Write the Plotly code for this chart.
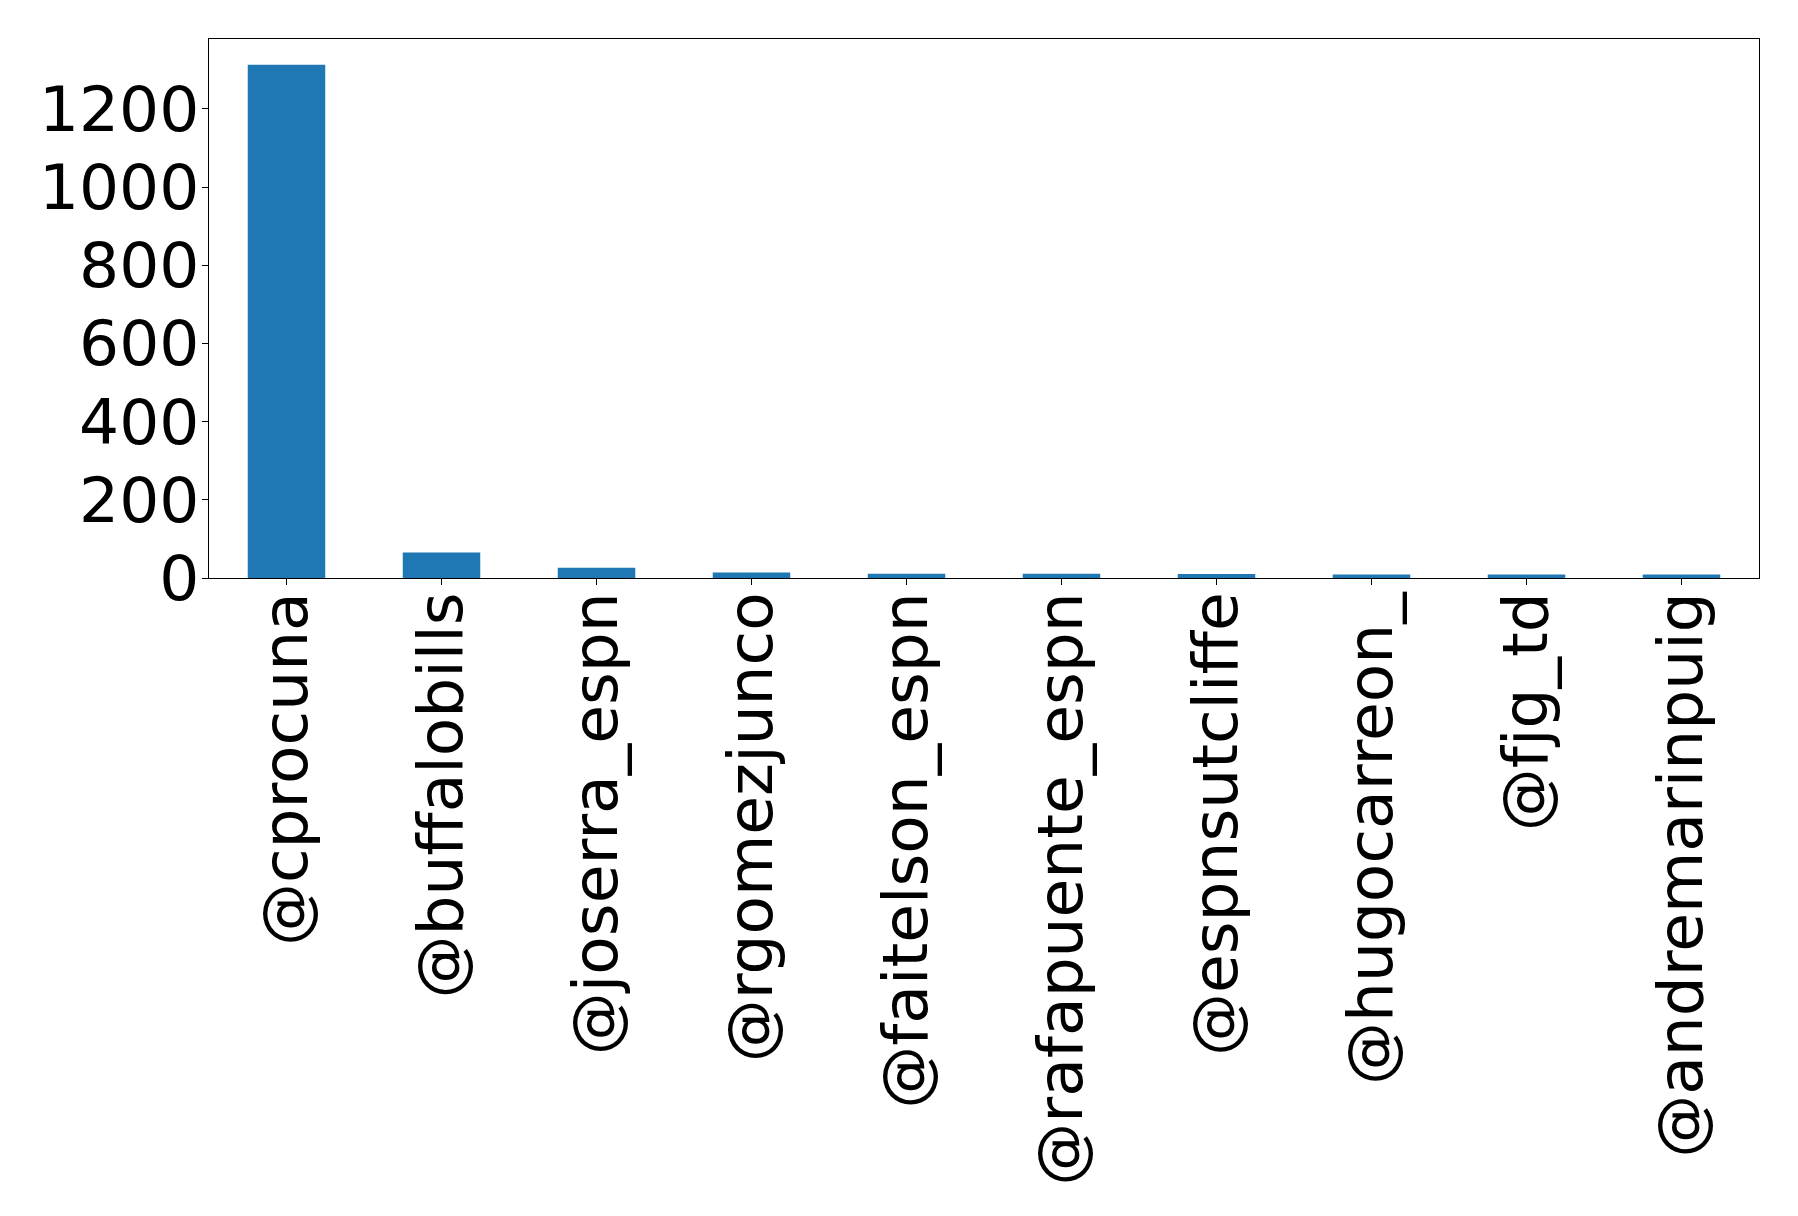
import plotly.graph_objects as go

accounts = ["@cprocuna", "@buffalobills", "@joserra_espn", "@rgomezjunco",
            "@faitelson_espn", "@rafapuente_espn", "@espnsutcliffe",
            "@hugocarreon_", "@fjg_td", "@andremarinpuig"]
counts = [1313, 65, 26, 14, 11, 11, 10, 9, 9, 9]

fig = go.Figure(go.Bar(
    x=list(range(len(accounts))), y=counts, width=0.5,
    marker=dict(color="#1f77b4", line=dict(width=0)),
))

font = dict(family="DejaVu Sans", size=63, color="black")
fig.update_layout(
    width=1790, height=1208,
    margin=dict(l=201, r=39, t=31, b=638),
    paper_bgcolor="white", plot_bgcolor="white",
    showlegend=False,
    font=font,
)
fig.update_xaxes(
    range=[-0.5, 9.5], tickmode="array",
    tickvals=list(range(len(accounts))), ticktext=accounts,
    tickangle=-90, ticks="outside", ticklen=6, tickwidth=1.2, tickcolor="black",
    ticklabelstandoff=-18,
    showline=True, linecolor="black", linewidth=1.2, mirror=True,
    showgrid=False, zeroline=False, tickfont=font,
)
fig.update_yaxes(
    range=[0, 1378.65], tickmode="array",
    tickvals=[0, 200, 400, 600, 800, 1000, 1200],
    ticks="outside", ticklen=6, tickwidth=1.2, tickcolor="black",
    ticklabelstandoff=-10,
    showline=True, linecolor="black", linewidth=1.2, mirror=True,
    showgrid=False, zeroline=False, tickfont=font,
)
fig.write_html("out.html")
